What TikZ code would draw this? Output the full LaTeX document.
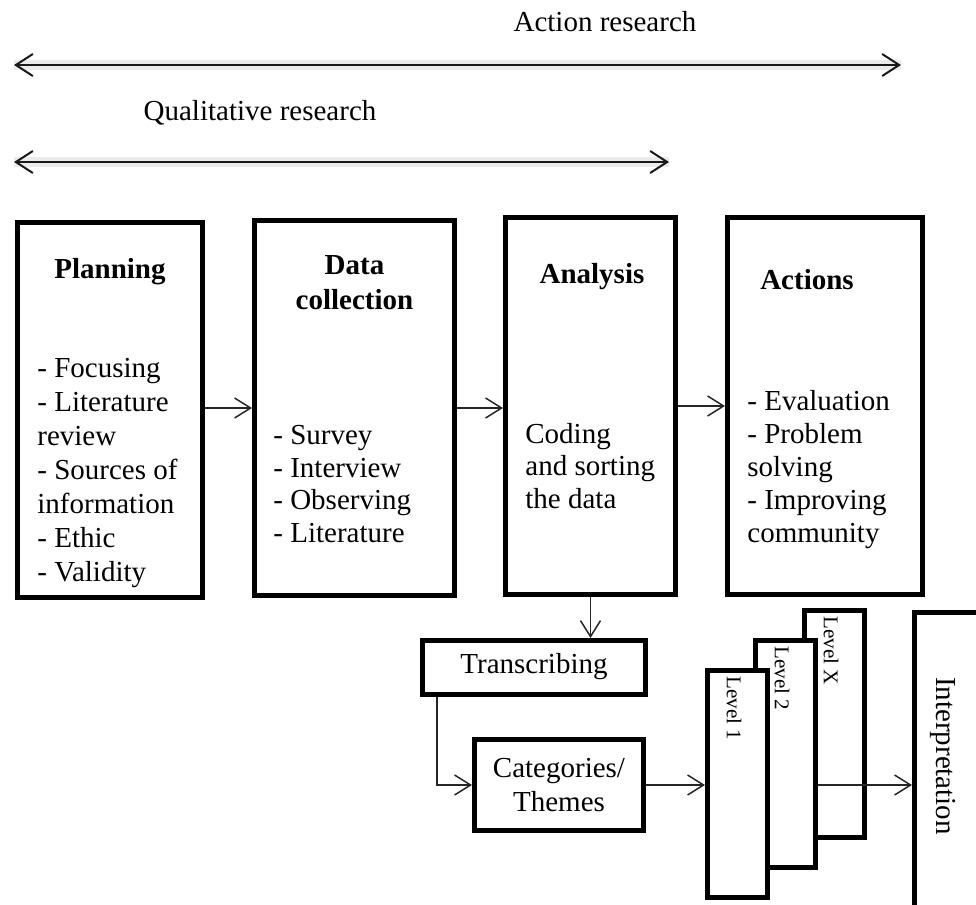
\documentclass[tikz,border=0pt]{standalone}
\usepackage{fontspec}
\setmainfont{Liberation Serif}
\usetikzlibrary{arrows.meta}
\begin{document}
\begin{tikzpicture}[x=0.5pt,y=-0.5pt,
  box/.style={draw, line width=2.5pt, fill=white, inner sep=0pt},
  link/.style={line width=0.75pt, draw=black!85},
  barb/.style={link, -{Straight Barb[length=8pt,width=10pt,line width=0.75pt]}},
  span/.style={line width=1pt, draw=black!90,
    {Straight Barb[length=8.5pt,width=11pt,line width=1pt]}-{Straight Barb[length=8.5pt,width=11pt,line width=1pt]}},
  halo/.style={line width=5pt, draw=black, opacity=0.08},
  txt/.style={font=\fontsize{14.5}{17}\selectfont, inner sep=0pt},
  head/.style={font=\fontsize{14.5}{17.5}\selectfont\bfseries, inner sep=0pt, align=center},
  lvl/.style={font=\fontsize{10.5}{12}\selectfont, inner sep=0pt, rotate=-90, anchor=west},
]
\useasboundingbox (0,0) rectangle (976,905);
\clip (0,0) rectangle (976,905);

% research spans
\coordinate (arL) at (14,65);
\coordinate (arR) at (901,65);
\coordinate (qrL) at (14,162);
\coordinate (qrR) at (669,162);
\draw[halo] (arL) -- (arR);
\draw[halo] (qrL) -- (qrR);
\draw[span] (arL) -- (arR);
\draw[span] (qrL) -- (qrR);
\node[txt] (artxt) at (605,22) {Action research};
\node[txt] (qrtxt) at (260,113) {Qualitative research};

% main stages
\node[box, minimum width=92.5pt, minimum height=187.5pt] (plan) at (110,410) {};
\node[box, minimum width=100pt, minimum height=187.5pt] (data) at (354.5,408) {};
\node[box, minimum width=85pt, minimum height=188.5pt] (ana) at (590.5,406) {};
\node[box, minimum width=97.5pt, minimum height=188.5pt] (act) at (825,406) {};

\node[head] (planh) at (110,272) {Planning};
\node[head] (datah) at (354.5,282.5) {Data\\collection};
\node[head] (anah) at (592,277) {Analysis};
\node[head] (acth) at (807,280) {Actions};

\node[txt, align=left, anchor=west, font=\fontsize{14.5}{17}\selectfont] (planl) at (37,473)
  {- Focusing\\- Literature\\review\\- Sources of\\information\\- Ethic\\- Validity};
\node[txt, align=left, anchor=west, font=\fontsize{14.5}{16.4}\selectfont] (datal) at (273,484)
  {- Survey\\- Interview\\- Observing\\- Literature};
\node[txt, align=left, anchor=west, font=\fontsize{14.5}{16.3}\selectfont] (anal) at (525,466)
  {Coding\\and sorting\\the data};
\node[txt, align=left, anchor=west, font=\fontsize{14.5}{16.5}\selectfont] (actl) at (747,470)
  {- Evaluation\\- Problem\\solving\\- Improving\\community};

\draw[barb] (plan.east |- data.west) -- (data.west);
\draw[barb] (data.east) -- (data.east -| ana.west);
\draw[barb] (ana.east) -- (ana.east -| act.west);

% coding steps
\node[box, minimum width=111.5pt, minimum height=27pt] (trans) at (534,667.5) {};
\node[txt] (transt) at (534,667) {Transcribing};
\node[box, minimum width=84.5pt, minimum height=45.5pt] (cat) at (559,785) {};
\node[txt, align=center] (catt) at (559,785) {Categories/\\Themes};

\draw[barb] (ana.south) -- (ana.south |- trans.north);
\draw[barb] ([xshift=8.5pt]trans.south west) |- (cat.west);

% levels, stacked back to front
\node[box, minimum width=30pt, minimum height=113.5pt] (lvlx) at (834,724) {};
\node[lvl] (lvlxt) at (831,616) {Level X};
\node[box, minimum width=30pt, minimum height=113.5pt] (lvl2) at (785.5,754) {};
\node[lvl] (lvl2t) at (782,646) {Level 2};
\node[box, minimum width=30pt, minimum height=113.5pt] (lvl1) at (737.5,784) {};
\node[lvl] (lvl1t) at (734,676) {Level 1};

\node[box, minimum width=34pt, minimum height=150pt] (interp) at (948.5,762.5) {};
\node[txt, rotate=-90] (interpt) at (943,756) {Interpretation};

\draw[barb] (cat.east) -- (cat.east -| lvl1.west);
\draw[barb] (lvl2.east |- cat.east) -- (cat.east -| interp.west);
\end{tikzpicture}
\end{document}
